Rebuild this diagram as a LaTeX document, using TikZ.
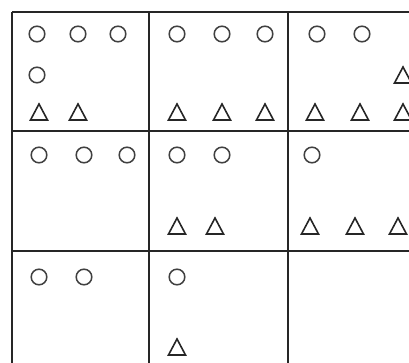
\documentclass[tikz,border=0pt]{standalone}
\usepackage{tikz}

\tikzset{
  gridline/.style={line width=1.7pt, draw=black!85},
  ring/.style={line width=1.5pt, draw=black!75},
  tri/.style={line width=1.6pt, draw=black!85, line join=miter},
}
\newcommand{\markring}[2]{\draw[ring] (#1,#2) circle[radius=7.8pt];}
\newcommand{\marktri}[2]{\draw[tri] (#1,#2) ++(-8.5,8) -- ++(8.5,-16) -- ++(8.5,16) -- cycle;}

\begin{document}
\begin{tikzpicture}[x=1pt, y=-1pt]
    \useasboundingbox (0,0) rectangle (409,363);

    % Grid
    \foreach \y in {12, 131, 251} {
        \draw[gridline] (12,\y) -- (412,\y);
    }
    \foreach \x in {12, 149, 288} {
        \draw[gridline] (\x,12) -- (\x,366);
    }

    % Top row
    \foreach \x in {37, 78, 118} {
        \markring{\x}{34}
    }
    \markring{37}{75}
    \foreach \x in {39, 78} {
        \marktri{\x}{112}
    }
    \foreach \x in {177, 222, 265} {
        \markring{\x}{34}
        \marktri{\x}{112}
    }
    \foreach \x in {317, 362} {
        \markring{\x}{34}
    }
    \marktri{403}{75}
    \foreach \x in {315, 360, 403} {
        \marktri{\x}{112}
    }

    % Middle row
    \foreach \x in {39, 84, 127} {
        \markring{\x}{155}
    }
    \foreach \x in {177, 222} {
        \markring{\x}{155}
    }
    \foreach \x in {177, 215} {
        \marktri{\x}{226}
    }
    \markring{312}{155}
    \foreach \x in {310, 355, 398} {
        \marktri{\x}{226}
    }

    % Bottom row
    \foreach \x in {39, 84} {
        \markring{\x}{277}
    }
    \markring{177}{277}
    \marktri{177}{347}
\end{tikzpicture}
\end{document}
